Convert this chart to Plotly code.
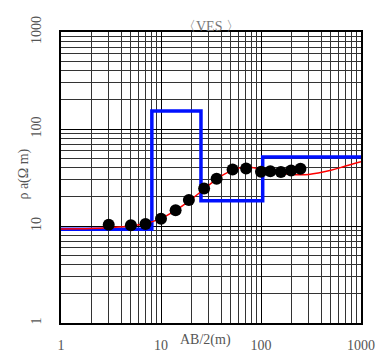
import plotly.graph_objects as go

# observed data
ab2 = [3, 5, 7, 10, 14, 19, 27, 36, 52, 71, 100, 124, 158, 200, 248]
rho_obs = [10.3, 10.2, 10.5, 11.9, 14.5, 18.5, 24.3, 30.7, 38.3, 39.2, 36.3, 36.6, 36.0, 37.4, 39.0]

# calculated curve
calc_x = [1, 2, 3, 5, 7, 10, 14, 20, 27, 36, 50, 70, 100, 150, 200, 300, 500, 700, 1000]
calc_y = [9.3, 9.4, 9.6, 10.0, 10.6, 12.0, 14.5, 18.8, 24, 30.5, 37, 40.5, 38.5, 35.5, 34, 34, 37.5, 41.5, 46]

# layered model (step)
model_x = [0.9, 8.1, 8.1, 25.1, 25.1, 104, 104, 1100]
model_y = [9.25, 9.25, 153, 153, 18.2, 18.2, 51.3, 51.3]

tick_vals = [1, 10, 100, 1000]
tick_text = ["1", "10", "100", "1000"]

fig = go.Figure()
fig.add_trace(go.Scatter(x=model_x, y=model_y, mode="lines",
                         line=dict(color="#0010ff", width=3.5), showlegend=False))
fig.add_trace(go.Scatter(x=calc_x, y=calc_y, mode="lines",
                         line=dict(color="#ff0000", width=1.5, shape="spline"), showlegend=False))
fig.add_trace(go.Scatter(x=ab2, y=rho_obs, mode="markers",
                         marker=dict(color="black", size=12), showlegend=False))

font_serif = "Liberation Serif, DejaVu Serif, serif"
axis_common = dict(
    type="log", showline=True, linecolor="black", linewidth=2, mirror=True,
    showgrid=True, gridcolor="black", gridwidth=1.2, zeroline=False, automargin=False,
    ticks="", tickfont=dict(family=font_serif, size=14, color="#555"),
    minor=dict(showgrid=True, gridcolor="#333", gridwidth=1, dtick="D1", ticks=""),
)

fig.update_xaxes(range=[0, 3], tickvals=tick_vals, ticktext=tick_text,
                 ticklabelstandoff=8, **axis_common)
fig.update_yaxes(range=[0, 3], tickvals=tick_vals, ticktext=tick_text,
                 tickangle=-90, ticklabelstandoff=12, **axis_common)

fig.add_annotation(text="AB/2(m)", xref="paper", yref="paper", x=0.48, y=0,
                   yshift=-17, showarrow=False, yanchor="middle",
                   font=dict(family=font_serif, size=14, color="#555"))
fig.add_annotation(text="ρ a(Ω m)", xref="paper", yref="paper", x=0, y=0.51,
                   xshift=-37, textangle=-90, showarrow=False, xanchor="center",
                   font=dict(family=font_serif, size=14, color="#555"))
fig.add_annotation(text="〈VES 〉", xref="paper", yref="paper", x=0.5, y=1,
                   yshift=-4, showarrow=False, yanchor="bottom",
                   font=dict(family=font_serif, size=14, color="#777"))

fig.update_layout(
    width=378, height=356,
    margin=dict(l=61, r=17, t=32, b=33),
    paper_bgcolor="white", plot_bgcolor="white",
    showlegend=False,
)

fig.write_html("out.html")
